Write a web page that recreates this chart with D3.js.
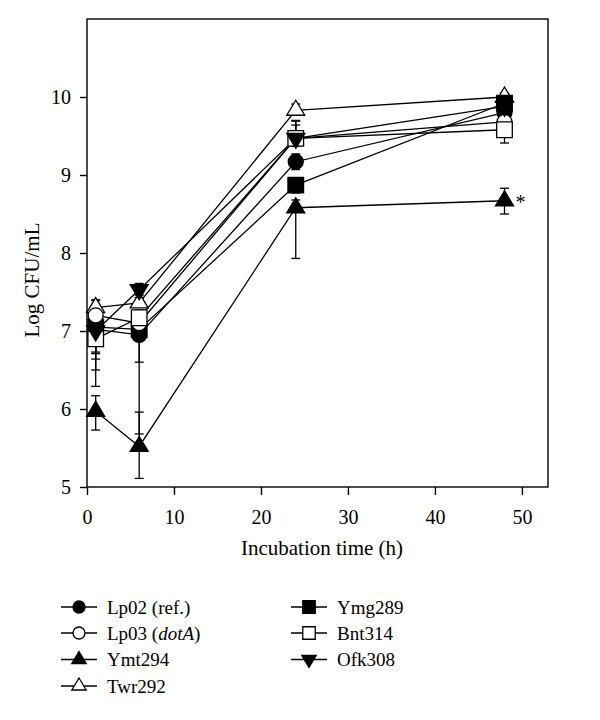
<!DOCTYPE html>
<html>
<head>
<meta charset="utf-8">
<script src="https://cdn.jsdelivr.net/npm/d3@7.9.0/dist/d3.min.js"></script>
<style>
  body { margin: 0; background: #fff; }
  text { font-family: "Liberation Serif", "Times New Roman", serif; fill: #000; }
</style>
</head>
<body>
<svg id="chart" width="600" height="720"></svg>
<script>
// sampling times (h)
const times = [1, 6, 24, 48];
const xTicks = [0, 10, 20, 30, 40, 50];
const yTicks = [5, 6, 7, 8, 9, 10];

// strain names, legend order
const strains = ['Lp02', 'Lp03', 'Ymt294', 'Twr292', 'Ymg289', 'Bnt314', 'Ofk308'];

// Log CFU/mL means, and error bar lengths below / above
const meanLp02 = [7.02, 6.95, 9.17, 9.80];
const loLp02   = [0.38, 1.27, 0.10, 0.10];
const hiLp02   = [0.10, 0.10, 0.10, 0.10];

const meanLp03 = [7.20, 7.10, 9.47, 9.68];
const loLp03   = [0.47, 0.10, 0.10, 0.10];
const hiLp03   = [0.19, 0.10, 0.22, 0.10];

const meanYmt294 = [5.97, 5.52, 8.58, 8.67];
const loYmt294   = [0.24, 0.41, 0.65, 0.17];
const hiYmt294   = [0.20, 0.44, 0.10, 0.16];

const meanTwr292 = [7.30, 7.36, 9.83, 10.00];
const loTwr292   = [0.05, 0.05, 0.05, 0.05];
const hiTwr292   = [0.10, 0.10, 0.08, 0.05];

const meanYmg289 = [7.05, 7.02, 8.87, 9.92];
const loYmg289   = [0.34, 0.42, 0.10, 0.05];
const hiYmg289   = [0.05, 0.05, 0.05, 0.05];

const meanBnt314 = [6.90, 7.17, 9.47, 9.58];
const loBnt314   = [0.40, 0.10, 0.10, 0.17];
const hiBnt314   = [0.10, 0.10, 0.17, 0.10];

const meanOfk308 = [7.00, 7.53, 9.47, 9.88];
const loOfk308   = [0.71, 0.10, 0.10, 0.10];
const hiOfk308   = [0.10, 0.08, 0.23, 0.10];

// build series table from the arrays above
const series = [
  { name: strains[0], mean: meanLp02,   lo: loLp02,   hi: hiLp02,   shape: 'circle', filled: true },
  { name: strains[1], mean: meanLp03,   lo: loLp03,   hi: hiLp03,   shape: 'circle', filled: false },
  { name: strains[2], mean: meanYmt294, lo: loYmt294, hi: hiYmt294, shape: 'up',     filled: true },
  { name: strains[3], mean: meanTwr292, lo: loTwr292, hi: hiTwr292, shape: 'up',     filled: false },
  { name: strains[4], mean: meanYmg289, lo: loYmg289, hi: hiYmg289, shape: 'square', filled: true },
  { name: strains[5], mean: meanBnt314, lo: loBnt314, hi: hiBnt314, shape: 'square', filled: false },
  { name: strains[6], mean: meanOfk308, lo: loOfk308, hi: hiOfk308, shape: 'down',   filled: true }
];
// which series sits on top of which (last drawn = on top)
const drawOrder = [0, 2, 3, 4, 1, 5, 6];

const svg = d3.select('#chart');
const x = d3.scaleLinear().domain([0, 53]).range([87, 548]);
const y = d3.scaleLinear().domain([5, 11]).range([487, 19]);

// marker path, centred on 0,0 ; k scales it
function markerPath(shape, k) {
  const p = d3.path();
  if (shape === 'circle') {
    const r = 7.5 * k;
    p.arc(0, 0, r, 0, 2 * Math.PI);
  } else if (shape === 'square') {
    const h = 7.8 * k;
    p.rect(-h, -h, 2 * h, 2 * h);
  } else {
    const w = 9 * k, h = 15 * k;
    const s = shape === 'up' ? 1 : -1;
    p.moveTo(0, -s * h * 2 / 3);
    p.lineTo(w, s * h / 3);
    p.lineTo(-w, s * h / 3);
    p.closePath();
  }
  return p.toString();
}

// frame
svg.append('rect')
  .attr('x', x(0)).attr('y', y(11))
  .attr('width', x(53) - x(0)).attr('height', y(5) - y(11))
  .attr('fill', 'none').attr('stroke', '#000').attr('stroke-width', 1.4);

// axes
const xAxis = svg.append('g')
  .attr('transform', `translate(0,${y(5)})`)
  .call(d3.axisBottom(x).tickValues(xTicks).tickSize(8).tickPadding(15).tickSizeOuter(0));
const yAxis = svg.append('g')
  .attr('transform', `translate(${x(0)},0)`)
  .call(d3.axisLeft(y).tickValues(yTicks).tickFormat(d3.format('d')).tickSize(7).tickPadding(9).tickSizeOuter(0));
[xAxis, yAxis].forEach(g => {
  g.select('.domain').remove();
  g.selectAll('line').attr('stroke', '#000').attr('stroke-width', 1.4);
  g.selectAll('text').attr('font-size', 20).style('font-family', '"Liberation Serif", serif');
});

// axis titles
svg.append('text')
  .attr('x', 322).attr('y', 555)
  .attr('text-anchor', 'middle').attr('font-size', 21)
  .text('Incubation time (h)');
svg.append('text')
  .attr('transform', `translate(39,280) rotate(-90)`)
  .attr('text-anchor', 'middle').attr('font-size', 21)
  .text('Log CFU/mL');

// lines
const line = d3.line().x((d, i) => x(times[i])).y(d => y(d));
series.forEach(s => {
  svg.append('path')
    .attr('d', line(s.mean))
    .attr('fill', 'none').attr('stroke', '#000').attr('stroke-width', 1.3);
});

// error bars
series.forEach(s => {
  s.mean.forEach((m, i) => {
    const cx = x(times[i]);
    const yl = y(m - s.lo[i]), yh = y(m + s.hi[i]);
    const g = svg.append('g').attr('stroke', '#000').attr('stroke-width', 1.3);
    g.append('line').attr('x1', cx).attr('x2', cx).attr('y1', yl).attr('y2', yh);
    g.append('line').attr('x1', cx - 4.5).attr('x2', cx + 4.5).attr('y1', yl).attr('y2', yl);
    g.append('line').attr('x1', cx - 4.5).attr('x2', cx + 4.5).attr('y1', yh).attr('y2', yh);
  });
});

// markers
drawOrder.forEach(k => {
  const s = series[k];
  svg.append('g').selectAll('path')
    .data(s.mean)
    .join('path')
    .attr('transform', (d, i) => `translate(${x(times[i])},${y(d)})`)
    .attr('d', markerPath(s.shape, 1))
    .attr('fill', s.filled ? '#000' : '#fff')
    .attr('stroke', '#000').attr('stroke-width', 1.3);
});

// significance mark on Ymt294 at 48 h
svg.append('text')
  .attr('x', x(48) + 11).attr('y', y(meanYmt294[3]) + 8)
  .attr('font-size', 20)
  .text('*');

// legend
const legendRows = [607, 633, 659.5, 686];
const legendCols = [79, 309];
series.forEach((s, i) => {
  const col = i < 4 ? 0 : 1;
  const row = i < 4 ? i : i - 4;
  const cx = legendCols[col], cy = legendRows[row];
  const g = svg.append('g');
  g.append('line')
    .attr('x1', cx - 18).attr('x2', cx + 18).attr('y1', cy).attr('y2', cy)
    .attr('stroke', '#000').attr('stroke-width', 1.3);
  g.append('path')
    .attr('transform', `translate(${cx},${cy})`)
    .attr('d', markerPath(s.shape, 0.8))
    .attr('fill', s.filled ? '#000' : '#fff')
    .attr('stroke', '#000').attr('stroke-width', 1.3);
  const t = g.append('text')
    .attr('x', cx + 28).attr('y', cy + 6.5)
    .attr('font-size', 19);
  if (s.name === 'Lp02') {
    t.text('Lp02 (ref.)');
  } else if (s.name === 'Lp03') {
    t.append('tspan').text('Lp03 (');
    t.append('tspan').attr('font-style', 'italic').text('dotA');
    t.append('tspan').text(')');
  } else {
    t.text(s.name);
  }
});
</script>
</body>
</html>
